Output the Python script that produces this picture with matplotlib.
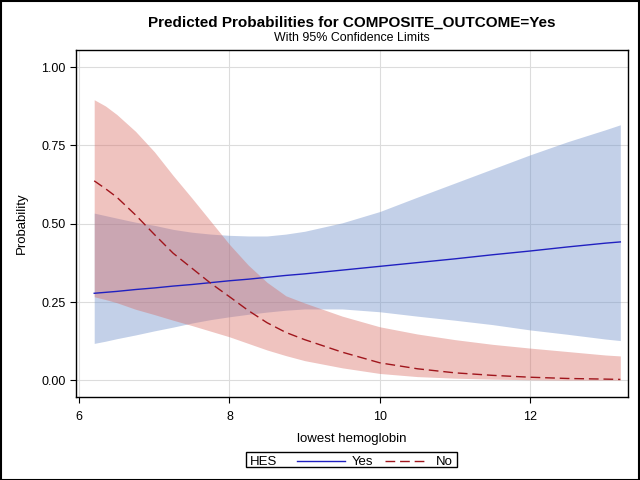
import matplotlib
matplotlib.use("Agg")
import matplotlib.pyplot as plt
from matplotlib.lines import Line2D
from matplotlib.patches import Rectangle
from matplotlib.ticker import FormatStrFormatter

plt.rcParams['font.family'] = ['Liberation Sans', 'DejaVu Sans']

# lowest hemoglobin values where the curves were read
hgb = [6.2, 6.35, 6.5, 6.75, 7.0, 7.25, 7.5, 7.75, 8.0, 8.25, 8.5, 8.75, 9.0,
       9.5, 10.0, 10.5, 11.0, 11.5, 12.0, 12.5, 13.0, 13.2]

# HES = Yes
yes_pred = [0.278, 0.281, 0.284, 0.290, 0.295, 0.301, 0.306, 0.312, 0.318, 0.323, 0.329, 0.335, 0.340,
            0.352, 0.364, 0.376, 0.388, 0.401, 0.413, 0.426, 0.438, 0.442]
yes_upper = [0.534, 0.526, 0.518, 0.505, 0.495, 0.482, 0.473, 0.467, 0.463, 0.461, 0.461, 0.467, 0.476,
             0.503, 0.539, 0.585, 0.630, 0.675, 0.720, 0.762, 0.800, 0.816]
yes_lower = [0.118, 0.125, 0.133, 0.145, 0.158, 0.170, 0.183, 0.194, 0.203, 0.211, 0.218, 0.224, 0.228,
             0.228, 0.219, 0.205, 0.192, 0.178, 0.161, 0.147, 0.132, 0.127]

# HES = No
no_pred = [0.637, 0.612, 0.585, 0.528, 0.466, 0.406, 0.358, 0.310, 0.267, 0.223, 0.184, 0.153, 0.130,
           0.090, 0.056, 0.037, 0.024, 0.016, 0.010, 0.006, 0.004, 0.003]
no_upper = [0.896, 0.876, 0.849, 0.795, 0.730, 0.654, 0.582, 0.508, 0.434, 0.368, 0.313, 0.270, 0.247,
            0.205, 0.171, 0.148, 0.130, 0.115, 0.103, 0.092, 0.081, 0.078]
no_lower = [0.267, 0.258, 0.248, 0.227, 0.210, 0.192, 0.175, 0.157, 0.139, 0.118, 0.097, 0.079, 0.063,
            0.040, 0.022, 0.012, 0.007, 0.004, 0.002, 0.001, 0.001, 0.001]

xticks = [6, 8, 10, 12]
yticks = [0.0, 0.25, 0.5, 0.75, 1.0]

blue_fill = '#7090CA'
red_fill = '#D76961'
blue_line = '#2020C0'
red_line = '#A0151C'

fig = plt.figure(figsize=(6.4, 4.8), dpi=100)
ax = fig.add_axes([0.119, 0.173, 0.862, 0.723])

ax.fill_between(hgb, yes_lower, yes_upper, color=blue_fill, alpha=0.42, linewidth=0)
ax.fill_between(hgb, no_lower, no_upper, color=red_fill, alpha=0.4, linewidth=0)
ax.plot(hgb, yes_pred, color=blue_line, linewidth=1)
ax.plot(hgb, no_pred, color=red_line, linewidth=1, dashes=(7, 3.5))

ax.set_xlim(5.96, 13.30)
ax.set_ylim(-0.053, 1.055)
ax.set_xticks(xticks)
ax.set_yticks(yticks)
ax.yaxis.set_major_formatter(FormatStrFormatter('%.2f'))
ax.grid(True, color='#DCDCDC', linewidth=0.8)
ax.set_axisbelow(True)
ax.tick_params(labelsize=9, length=4, width=0.8)
ax.tick_params(axis='x', pad=6)
for s in ax.spines.values():
    s.set_linewidth(1)

ax.set_xlabel('lowest hemoglobin', fontsize=9.5, labelpad=7)
ax.set_ylabel('Probability', fontsize=9.5, labelpad=10)

xc = 0.55
fig.text(xc, 1 - 26.7 / 480, 'Predicted Probabilities for COMPOSITE_OUTCOME=Yes',
         ha='center', va='baseline', fontsize=11, fontweight='bold')
fig.text(xc, 1 - 40.7 / 480, 'With 95% Confidence Limits',
         ha='center', va='baseline', fontsize=8.9)

# legend: framed box with inline "HES" label
fig.patches.append(Rectangle((246 / 640, 1 - 467 / 480), 211 / 640, 15 / 480,
                             transform=fig.transFigure, fill=False,
                             edgecolor='black', linewidth=1))
base = 1 - 465 / 480
line_y = 1 - 460.5 / 480
fig.text(250 / 640, base, 'HES', ha='left', va='baseline', fontsize=9.5)
fig.add_artist(Line2D([297 / 640, 345 / 640], [line_y, line_y], color=blue_line, linewidth=1))
fig.text(352 / 640, base, 'Yes', ha='left', va='baseline', fontsize=9.5)
fig.add_artist(Line2D([385 / 640, 425 / 640], [line_y, line_y], color=red_line,
                      linewidth=1, dashes=(7, 3.5)))
fig.text(436 / 640, base, 'No', ha='left', va='baseline', fontsize=9.5)

fig.patches.append(Rectangle((0.001, 0.001), 0.997, 0.997, transform=fig.transFigure,
                             fill=False, edgecolor='black', linewidth=1.5))

fig.savefig('out.png', dpi=100)
